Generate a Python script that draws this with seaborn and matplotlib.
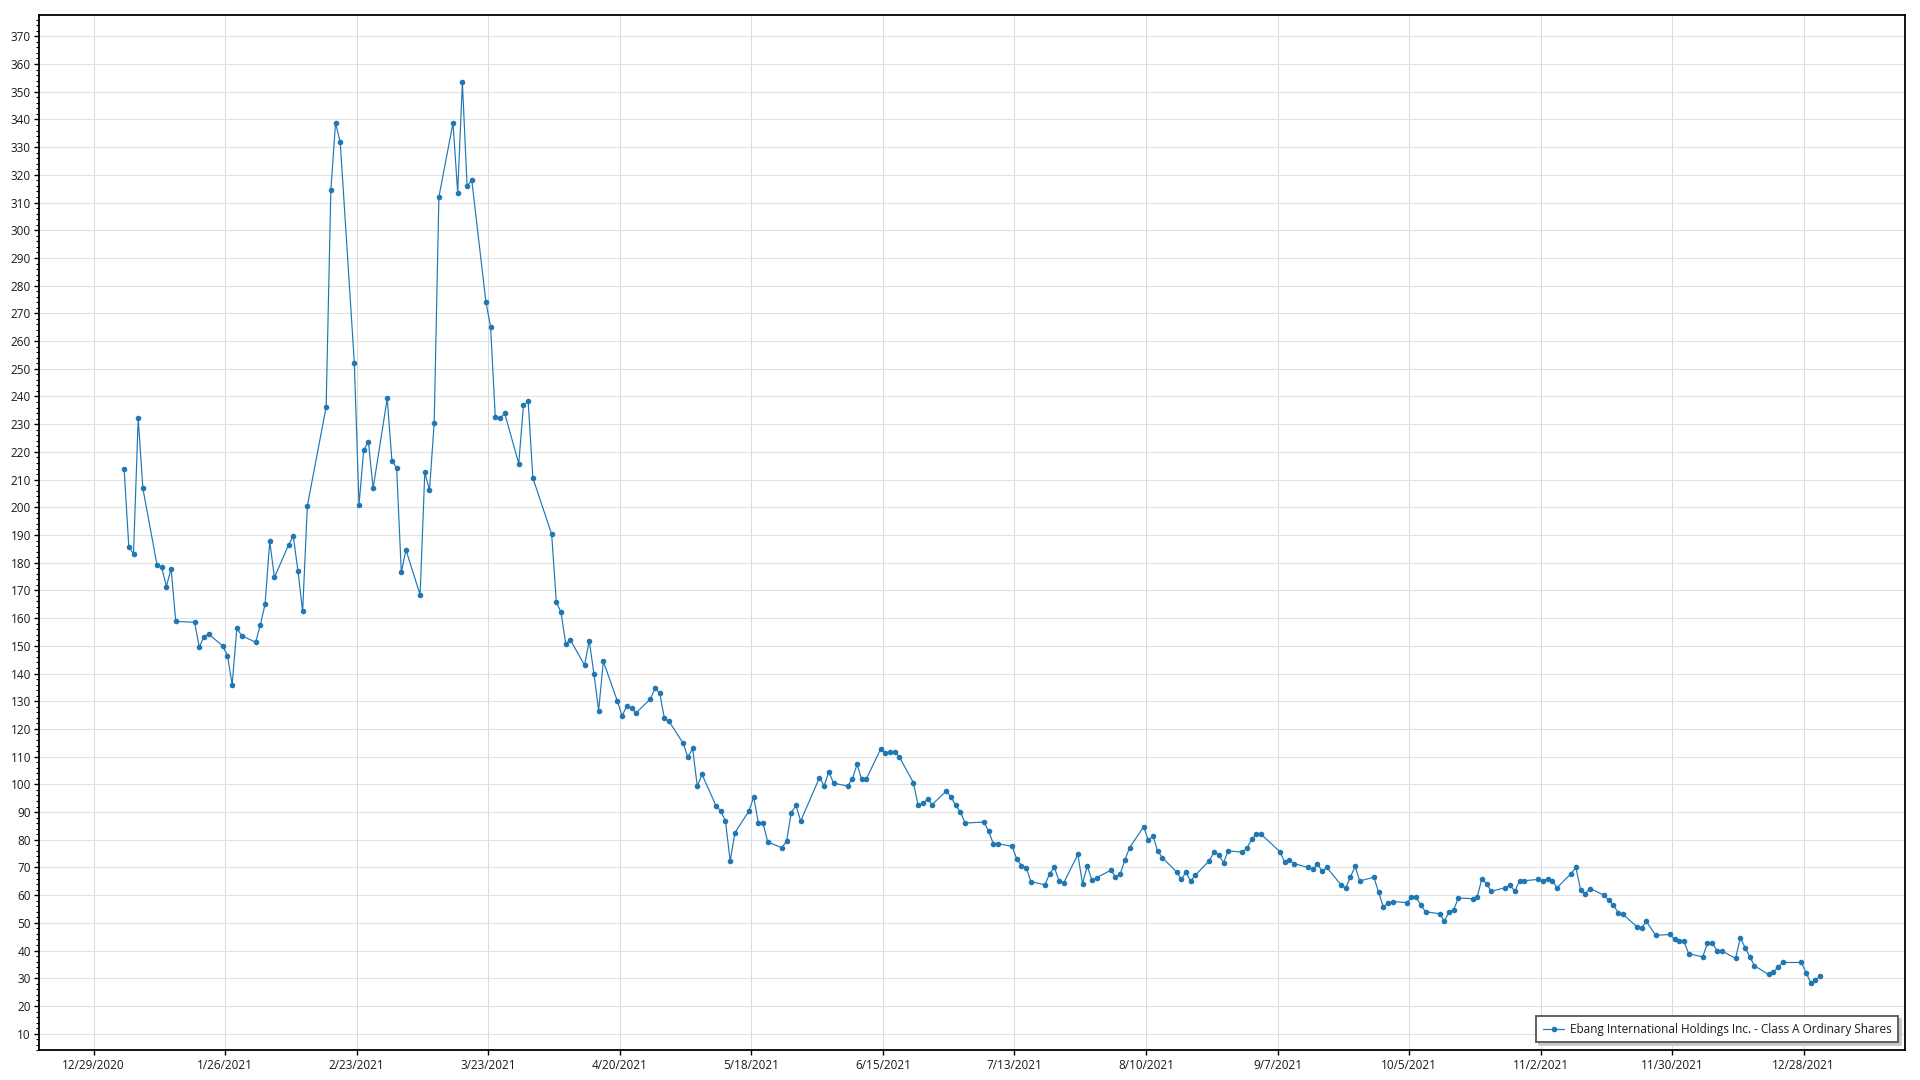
import matplotlib
matplotlib.use("Agg")
import matplotlib.pyplot as plt
import matplotlib.dates as mdates
from matplotlib.ticker import MultipleLocator, FixedLocator
import seaborn as sns
import pandas as pd

# ---------------- data ----------------
dates = [
    "2021-01-04", "2021-01-05", "2021-01-06", "2021-01-07", "2021-01-08",
    "2021-01-11", "2021-01-12", "2021-01-13", "2021-01-14", "2021-01-15",
    "2021-01-19", "2021-01-20", "2021-01-21", "2021-01-22",
    "2021-01-25", "2021-01-26", "2021-01-27", "2021-01-28", "2021-01-29",
    "2021-02-01", "2021-02-02", "2021-02-03", "2021-02-04", "2021-02-05",
    "2021-02-08", "2021-02-09", "2021-02-10", "2021-02-11", "2021-02-12",
    "2021-02-16", "2021-02-17", "2021-02-18", "2021-02-19",
    "2021-02-22", "2021-02-23", "2021-02-24", "2021-02-25", "2021-02-26",
    "2021-03-01", "2021-03-02", "2021-03-03", "2021-03-04", "2021-03-05",
    "2021-03-08", "2021-03-09", "2021-03-10", "2021-03-11", "2021-03-12",
    "2021-03-15", "2021-03-16", "2021-03-17", "2021-03-18", "2021-03-19",
    "2021-03-22", "2021-03-23", "2021-03-24", "2021-03-25", "2021-03-26",
    "2021-03-29", "2021-03-30", "2021-03-31", "2021-04-01",
    "2021-04-05", "2021-04-06", "2021-04-07", "2021-04-08", "2021-04-09",
    "2021-04-12", "2021-04-13", "2021-04-14", "2021-04-15", "2021-04-16",
    "2021-04-19", "2021-04-20", "2021-04-21", "2021-04-22", "2021-04-23",
    "2021-04-26", "2021-04-27", "2021-04-28", "2021-04-29", "2021-04-30",
    "2021-05-03", "2021-05-04", "2021-05-05", "2021-05-06", "2021-05-07",
    "2021-05-10", "2021-05-11", "2021-05-12", "2021-05-13", "2021-05-14",
    "2021-05-17", "2021-05-18", "2021-05-19", "2021-05-20", "2021-05-21",
    "2021-05-24", "2021-05-25", "2021-05-26", "2021-05-27", "2021-05-28",
    "2021-06-01", "2021-06-02", "2021-06-03", "2021-06-04",
    "2021-06-07", "2021-06-08", "2021-06-09", "2021-06-10", "2021-06-11",
    "2021-06-14", "2021-06-15", "2021-06-16", "2021-06-17", "2021-06-18",
    "2021-06-21", "2021-06-22", "2021-06-23", "2021-06-24", "2021-06-25",
    "2021-06-28", "2021-06-29", "2021-06-30", "2021-07-01", "2021-07-02",
    "2021-07-06", "2021-07-07", "2021-07-08", "2021-07-09",
    "2021-07-12", "2021-07-13", "2021-07-14", "2021-07-15", "2021-07-16",
    "2021-07-19", "2021-07-20", "2021-07-21", "2021-07-22", "2021-07-23",
    "2021-07-26", "2021-07-27", "2021-07-28", "2021-07-29", "2021-07-30",
    "2021-08-02", "2021-08-03", "2021-08-04", "2021-08-05", "2021-08-06",
    "2021-08-09", "2021-08-10", "2021-08-11", "2021-08-12", "2021-08-13",
    "2021-08-16", "2021-08-17", "2021-08-18", "2021-08-19", "2021-08-20",
    "2021-08-23", "2021-08-24", "2021-08-25", "2021-08-26", "2021-08-27",
    "2021-08-30", "2021-08-31", "2021-09-01", "2021-09-02", "2021-09-03",
    "2021-09-07", "2021-09-08", "2021-09-09", "2021-09-10",
    "2021-09-13", "2021-09-14", "2021-09-15", "2021-09-16", "2021-09-17",
    "2021-09-20", "2021-09-21", "2021-09-22", "2021-09-23", "2021-09-24",
    "2021-09-27", "2021-09-28", "2021-09-29", "2021-09-30", "2021-10-01",
    "2021-10-04", "2021-10-05", "2021-10-06", "2021-10-07", "2021-10-08",
    "2021-10-11", "2021-10-12", "2021-10-13", "2021-10-14", "2021-10-15",
    "2021-10-18", "2021-10-19", "2021-10-20", "2021-10-21", "2021-10-22",
    "2021-10-25", "2021-10-26", "2021-10-27", "2021-10-28", "2021-10-29",
    "2021-11-01", "2021-11-02", "2021-11-03", "2021-11-04", "2021-11-05",
    "2021-11-08", "2021-11-09", "2021-11-10", "2021-11-11", "2021-11-12",
    "2021-11-15", "2021-11-16", "2021-11-17", "2021-11-18", "2021-11-19",
    "2021-11-22", "2021-11-23", "2021-11-24", "2021-11-26",
    "2021-11-29", "2021-11-30", "2021-12-01", "2021-12-02", "2021-12-03",
    "2021-12-06", "2021-12-07", "2021-12-08", "2021-12-09", "2021-12-10",
    "2021-12-13", "2021-12-14", "2021-12-15", "2021-12-16", "2021-12-17",
    "2021-12-20", "2021-12-21", "2021-12-22", "2021-12-23",
    "2021-12-27", "2021-12-28", "2021-12-29", "2021-12-30", "2021-12-31",
]

prices = [
    214.0, 185.8, 183.2, 232.1, 206.8,
    179.2, 178.3, 171.4, 177.9, 158.8,
    158.5, 149.5, 153.3, 154.3,
    149.9, 146.5, 136.0, 156.4, 153.7,
    151.3, 157.6, 165.0, 187.7, 174.7,
    186.4, 189.7, 177.1, 162.4, 200.5,
    236.2, 314.4, 338.7, 331.8,
    252.2, 200.8, 220.8, 223.6, 206.8,
    239.3, 216.8, 214.3, 176.6, 184.6,
    168.4, 212.6, 206.2, 230.5, 312.0,
    338.7, 313.6, 353.4, 316.0, 318.0,
    274.2, 265.2, 232.7, 232.1, 233.9,
    215.8, 236.9, 238.3, 210.6,
    190.3, 165.7, 162.1, 150.7, 152.1,
    143.0, 151.9, 139.9, 126.6, 144.4,
    130.0, 124.7, 128.4, 127.4, 125.8,
    130.8, 134.6, 132.9, 123.8, 122.7,
    114.8, 109.7, 113.0, 99.3, 103.6,
    92.2, 90.4, 86.7, 72.3, 82.5,
    90.4, 95.4, 86.1, 85.9, 79.2,
    77.1, 79.5, 89.8, 92.4, 86.7,
    102.4, 99.5, 104.5, 100.4,
    99.4, 102.0, 107.2, 101.8, 102.0,
    112.7, 111.3, 111.7, 111.7, 109.9,
    100.6, 92.4, 93.1, 94.6, 92.7,
    97.6, 95.4, 92.4, 90.0, 86.0,
    86.4, 83.1, 78.6, 78.6,
    77.6, 73.1, 70.7, 69.9, 64.9,
    63.7, 67.8, 70.0, 65.1, 64.5,
    74.7, 64.1, 70.6, 65.3, 66.3,
    69.0, 66.6, 67.5, 72.7, 77.1,
    84.7, 79.8, 81.3, 75.9, 73.5,
    68.4, 65.7, 68.2, 65.1, 67.2,
    72.5, 75.7, 74.5, 71.7, 76.0,
    75.5, 77.0, 80.2, 82.0, 82.0,
    75.7, 72.0, 72.8, 71.4,
    70.0, 69.3, 71.2, 68.7, 70.0,
    63.7, 62.5, 66.4, 70.4, 65.1,
    66.5, 61.2, 55.8, 57.1, 57.7,
    57.3, 59.2, 59.2, 56.4, 54.0,
    53.3, 50.6, 54.0, 54.8, 59.0,
    58.7, 59.4, 66.0, 64.0, 61.4,
    62.7, 63.6, 61.4, 65.2, 65.2,
    65.7, 65.1, 66.0, 65.1, 62.7,
    67.8, 70.0, 62.0, 60.5, 62.4,
    60.0, 58.2, 56.4, 53.7, 53.1,
    48.6, 48.3, 50.5, 45.5,
    45.8, 44.1, 43.3, 43.3, 38.9,
    37.7, 42.7, 42.9, 40.0, 39.9,
    37.2, 44.7, 41.1, 37.8, 34.5,
    31.4, 32.3, 33.9, 35.7,
    35.7, 32.0, 28.3, 29.4, 30.8,
]

series_name = "Ebang International Holdings Inc. - Class A Ordinary Shares"

x_tick_labels = [
    "12/29/2020", "1/26/2021", "2/23/2021", "3/23/2021", "4/20/2021",
    "5/18/2021", "6/15/2021", "7/13/2021", "8/10/2021", "9/7/2021",
    "10/5/2021", "11/2/2021", "11/30/2021", "12/28/2021",
]
y_tick_values = list(range(10, 371, 10))

# ---------------- style ----------------
sns.set_style("white")
plt.rcParams['font.family'] = ['Open Sans', 'DejaVu Sans']

df = pd.DataFrame({
    "date": pd.to_datetime(dates) + pd.Timedelta(hours=12),
    "price": prices,
})

W, H = 1920, 1080
fig = plt.figure(figsize=(W / 100, H / 100), dpi=100)
left, right, top, bottom = 39.3, 1905.0, 15.0, 1050.3
ax = fig.add_axes([left / W, 1 - bottom / H, (right - left) / W, (bottom - top) / H])

color = "#1f77b4"
sns.lineplot(
    data=df, x="date", y="price", ax=ax, color=color, linewidth=0.85,
    marker="o", markersize=4.0, markeredgecolor=color, markeredgewidth=0,
    estimator=None, label=series_name,
)

# axes ranges
ax.margins(x=0.05)
ax.set_ylim(4.0, 377.7)

# ticks
tick_dates = pd.to_datetime(x_tick_labels, format="%m/%d/%Y")
ax.xaxis.set_major_locator(FixedLocator(mdates.date2num(tick_dates.to_pydatetime())))
ax.set_xticklabels(x_tick_labels)
ax.set_yticks(y_tick_values)
ax.set_yticklabels([str(v) for v in y_tick_values])
ax.yaxis.set_minor_locator(MultipleLocator(2))

ax.tick_params(axis="both", which="major", direction="out", length=3.5,
               width=1.0, color="black", labelsize=8.5, pad=2.5,
               labelcolor="#1a1a1a", bottom=True, left=True)
ax.tick_params(axis="y", which="minor", direction="out", length=2,
               width=0.8, color="black", left=True)
ax.tick_params(axis="x", which="minor", bottom=False)

ax.set_xlabel("")
ax.set_ylabel("")

ax.grid(True, which="major", axis="y", color="#e2e2e2", linewidth=0.8)
ax.grid(True, which="major", axis="x", color="#dadada", linewidth=0.7)
ax.set_axisbelow(True)

for sp in ax.spines.values():
    sp.set_visible(True)
    sp.set_color("black")
    sp.set_linewidth(1.3)

ax.set_facecolor("white")
fig.patch.set_facecolor("white")

leg = ax.legend(
    loc="lower right", bbox_to_anchor=(0.9964, 0.0077), borderaxespad=0,
    frameon=True, fancybox=False, framealpha=1,
    shadow={"color": "#c8c8c8", "alpha": 1},
    edgecolor="#555555", fontsize=8.5, handlelength=1.8, handletextpad=0.5,
    borderpad=0.55,
)
leg.get_frame().set_linewidth(1.3)
for t in leg.get_texts():
    t.set_color("#1a1a1a")

fig.savefig("out.png", dpi=100, facecolor="white")
